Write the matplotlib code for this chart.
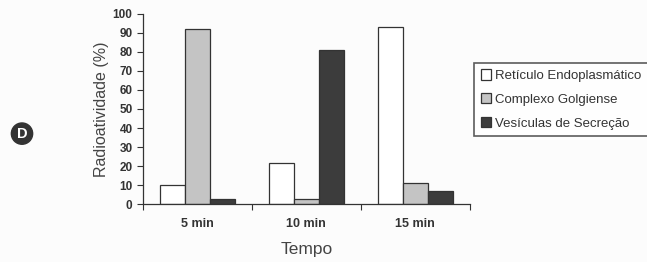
import numpy as np
import matplotlib.pyplot as plt

plt.rcParams['font.family'] = ['Liberation Sans', 'DejaVu Sans']

tempos = ["5 min", "10 min", "15 min"]
series = ["Retículo Endoplasmático", "Complexo Golgiense", "Vesículas de Secreção"]
reticulo = [10, 21.5, 93]
golgi = [92, 2.5, 11]
vesiculas = [2.5, 81, 7]

valores = [reticulo, golgi, vesiculas]
cores = ["#ffffff", "#c4c4c4", "#3c3c3c"]

fig = plt.figure(figsize=(6.47, 2.62), dpi=100, facecolor="#fcfcfc")
ax = fig.add_axes([0.221, 0.221, 0.505, 0.726])
ax.set_facecolor("#fcfcfc")

x = np.arange(len(tempos)) + 0.5
w = 0.23
for i, (vals, cor) in enumerate(zip(valores, cores)):
    ax.bar(x + (i - 1) * w, vals, width=w, color=cor, edgecolor="#333333",
           linewidth=0.9, label=series[i])

ax.set_xlim(0, 3)
ax.set_ylim(0, 100)
ax.set_yticks(range(0, 101, 10))
ax.set_xticks([0, 1, 2, 3], minor=False)
ax.set_xticklabels([])
ax.set_xticks(x, minor=True)
ax.set_xticklabels(tempos, minor=True, fontsize=9, fontweight="bold", color="#333333")
ax.tick_params(axis="x", which="minor", length=0, pad=10)
ax.tick_params(axis="x", which="major", length=4, direction="out", color="#333333")
ax.tick_params(axis="y", labelsize=8.5, length=4, color="#333333", labelcolor="#333333")
for lbl in ax.get_yticklabels():
    lbl.set_fontweight("bold")

for s in ["top", "right"]:
    ax.spines[s].set_visible(False)
for s in ["left", "bottom"]:
    ax.spines[s].set_color("#333333")
    ax.spines[s].set_linewidth(0.9)

ax.set_ylabel("Radioatividade (%)", fontsize=11.5, color="#444444", labelpad=3)
ax.set_xlabel("Tempo", fontsize=12.5, color="#444444", labelpad=9)

leg = fig.legend(loc="upper left", bbox_to_anchor=(0.733, 0.76), fontsize=9.5,
                 frameon=True, fancybox=False, edgecolor="#333333",
                 handlelength=0.8, handleheight=0.8, handletextpad=0.3,
                 borderpad=0.5, labelspacing=0.85, borderaxespad=0)
leg.get_frame().set_linewidth(1.2)
for t in leg.get_texts():
    t.set_color("#333333")

fig.text(0.034, 0.49, "D", fontsize=10.5, fontweight="bold", color="white",
         ha="center", va="center",
         bbox=dict(boxstyle="circle,pad=0.25", facecolor="#333333", edgecolor="#333333"))

fig.savefig("out.png", dpi=100, facecolor=fig.get_facecolor())
